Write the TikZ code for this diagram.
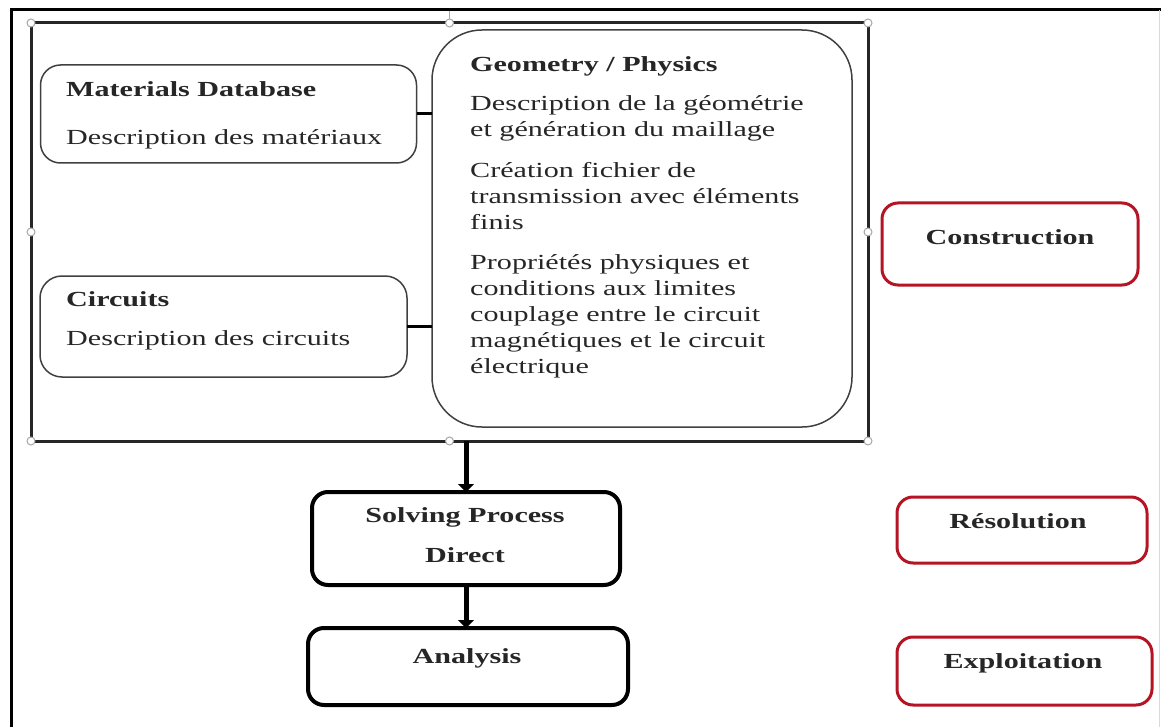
\documentclass[tikz,border=0pt]{standalone}
\usepackage{fontspec}
\setmainfont{Liberation Serif}[FakeStretch=1.4]
\usetikzlibrary{arrows.meta}
\colorlet{frame edge}{black!85}
\colorlet{box edge}{black!75}
\colorlet{handle edge}{black!35}
\definecolor{phase red}{RGB}{180,20,35}
\tikzset{txt/.style={font=\fontsize{21.5}{26}\selectfont, text=black!85, inner sep=0pt, align=left},
      soft box/.style={draw=box edge, line width=1.5pt, inner sep=0pt, outer sep=0pt},
      step box/.style={draw=black, line width=4pt, rounded corners=16pt, inner sep=0pt, outer sep=0pt},
      phase box/.style={draw=phase red, line width=3pt, rounded corners=16pt, inner sep=0pt, outer sep=0pt},
      link/.style={line width=3pt, black},
      flow/.style={line width=5pt, black, -{Triangle[width=16pt,length=8pt]}},
      handle/.style={draw=handle edge, fill=white, line width=1pt}}

\begin{document}
\begin{tikzpicture}[x=1pt,y=-1pt]
\useasboundingbox (0,0) rectangle (1161,727);
    % page border
    \draw[line width=3pt] (11,727) -- (11,10) -- (1161,10);
    \draw[black!15, line width=1pt] (1159,10) -- (1159,727);
    % construction frame
    \node[draw=frame edge, line width=3pt, minimum width=837pt, minimum height=418pt,
      inner sep=0pt, outer sep=0pt] (build) at (449.5,232) {};
    \node[soft box, rounded corners=20pt, minimum width=376pt, minimum height=98pt] (mat) at (228.5,114) {};
    \node[soft box, rounded corners=22pt, minimum width=367pt, minimum height=101pt] (cir) at (223.5,326.5) {};
    \node[soft box, rounded corners=50pt, minimum width=420pt, minimum height=397pt] (geo) at (642,228.5) {};
    % base = last line
    \node[txt, anchor=base west] (mattext) at (66,145)
      {\textbf{Materials Database}\\[22pt]Description des matériaux};
    \node[txt, anchor=base west] (cirtext) at (66,345)
      {\textbf{Circuits}\\[13pt]Description des circuits};
    \node[txt, anchor=base west] (geotext) at (470,373)
      {\textbf{Geometry / Physics}\\[13pt]
       Description de la géométrie\\et génération du maillage\\[15pt]
       Création fichier de\\transmission avec éléments\\finis\\[14pt]
       Propriétés physiques et\\conditions aux limites\\couplage entre le circuit\\
       magnétiques et le circuit\\électrique};
    \draw[link] (mat.east) -- (mat.east -| geo.west);
    \draw[link] (cir.east) -- (cir.east -| geo.west);
    % selection handles
    \draw[handle edge, line width=1pt] (build.north) -- ++(0,-12);
    \foreach \a in {north west, north, north east, west, east, south west, south, south east}
      \filldraw[handle] (build.\a) circle (4pt);
    % solving and analysis
    \node[step box, minimum width=308pt, minimum height=93pt] (solve) at (466,538.5) {};
    \node[step box, minimum width=320pt, minimum height=77pt] (ana) at (468,666.5) {};
    \node[txt, anchor=base, align=center] (solvetext) at (465,562)
      {\textbf{Solving Process}\\[14pt]\textbf{Direct}};
    \node[txt, anchor=base] (anatext) at (467,663) {\textbf{Analysis}};
    \draw[flow] (solve.north |- build.south) -- (solve.north);
    \draw[flow] (solve.south) -- (solve.south |- ana.north);
    % phases
    \node[phase box, minimum width=256pt, minimum height=82pt] (cons) at (1010,244) {};
    \node[phase box, minimum width=250pt, minimum height=66pt] (reso) at (1022,530) {};
    \node[phase box, minimum width=255pt, minimum height=68pt] (expl) at (1024.5,671) {};
    \node[txt, anchor=base] (constext) at (1010,245) {\textbf{Construction}};
    \node[txt, anchor=base] (resotext) at (1018,528) {\textbf{Résolution}};
    \node[txt, anchor=base] (expltext) at (1023,668) {\textbf{Exploitation}};
\end{tikzpicture}
\end{document}
